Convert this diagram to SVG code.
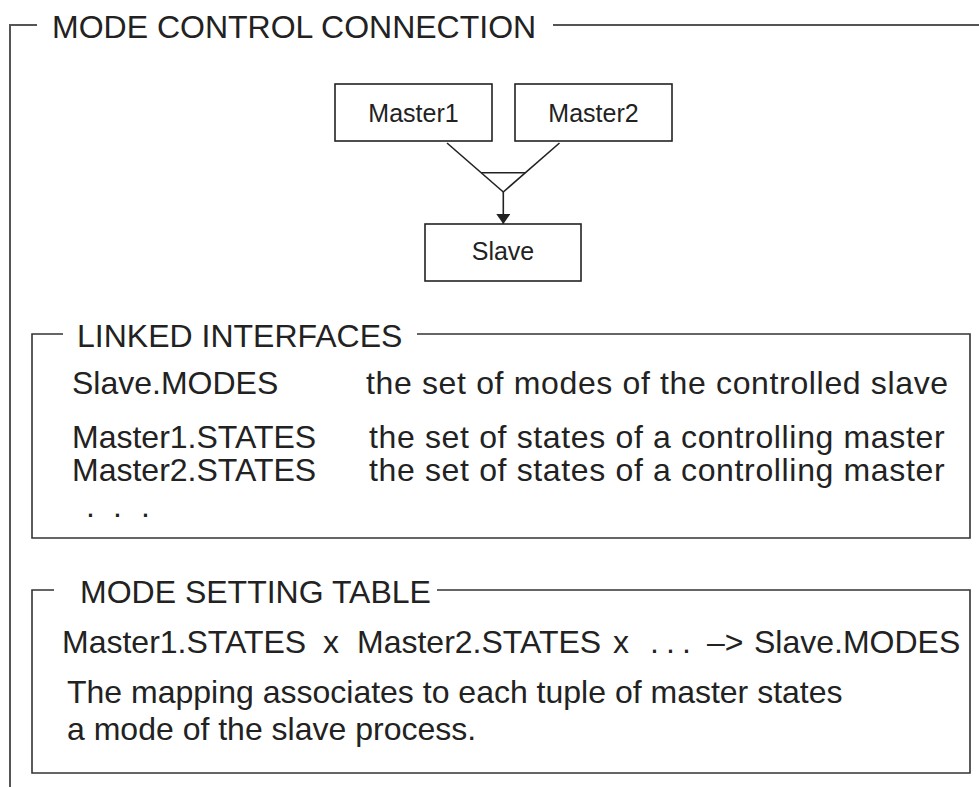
<svg xmlns="http://www.w3.org/2000/svg" width="979" height="787" viewBox="0 0 979 787">
  <defs>
    <marker id="arrow" viewBox="0 0 10 14" refX="10" refY="7" markerWidth="10" markerHeight="14" markerUnits="userSpaceOnUse" orient="auto">
      <path d="M0,0 L10,7 L0,14 Z" fill="#222"/>
    </marker>
    <style>
      text { font-family: "Liberation Sans", Arial, Helvetica, sans-serif; fill: #222; }
      .big { font-size: 32px; }
      .node { font-size: 25px; text-anchor: middle; }
      .box { fill: #fff; stroke: #222; stroke-width: 1.6; }
      .frame { fill: none; stroke: #333; stroke-width: 1.6; }
      .outer { fill: none; stroke: #555; stroke-width: 2; }
      .conn { fill: none; stroke: #222; stroke-width: 1.6; }
      .desc { letter-spacing: 0.65px; }
    </style>
  </defs>
  <rect width="979" height="787" fill="#fff"/>

  <!-- Outer frame: MODE CONTROL CONNECTION -->
  <g id="outer-frame">
    <polyline class="outer" points="37,25 10,25 10,787"/>
    <line class="outer" x1="553" y1="25" x2="979" y2="25"/>
    <text class="big" x="52" y="37.5">MODE CONTROL CONNECTION</text>
  </g>

  <!-- Nodes -->
  <g id="master1">
    <rect class="box" x="335" y="84" width="157" height="57"/>
    <text class="node" x="413.5" y="121.5">Master1</text>
  </g>
  <g id="master2">
    <rect class="box" x="515" y="84" width="157" height="57"/>
    <text class="node" x="593.5" y="121.5">Master2</text>
  </g>
  <g id="slave">
    <rect class="box" x="425" y="224" width="156" height="57"/>
    <text class="node" x="503" y="260">Slave</text>
  </g>

  <!-- Connectors -->
  <g id="connectors">
    <line class="conn" x1="447" y1="143" x2="503.3" y2="192"/>
    <line class="conn" x1="559.5" y1="143" x2="503.3" y2="192"/>
    <line class="conn" x1="481.3" y1="172.7" x2="525.3" y2="172.7"/>
    <line class="conn" x1="503.3" y1="192" x2="503.3" y2="224" marker-end="url(#arrow)"/>
  </g>

  <!-- LINKED INTERFACES -->
  <g id="linked-interfaces">
    <polyline class="frame" points="63,334 32,334 32,538 970,538 970,334 417,334"/>
    <text class="big" x="77" y="347">LINKED INTERFACES</text>
    <text class="big" x="72" y="394">Slave.MODES</text>
    <text class="big desc" x="366" y="394">the set of modes of the controlled slave</text>
    <text class="big" x="72" y="448">Master1.STATES</text>
    <text class="big desc" x="369" y="448">the set of states of a controlling master</text>
    <text class="big" x="72" y="481">Master2.STATES</text>
    <text class="big desc" x="369" y="481">the set of states of a controlling master</text>
    <text class="big" y="517"><tspan x="86">.</tspan><tspan x="113">.</tspan><tspan x="141">.</tspan></text>
  </g>

  <!-- MODE SETTING TABLE -->
  <g id="mode-setting-table">
    <polyline class="frame" points="54,590 32,590 32,773 970,773 970,590 437,590"/>
    <text class="big" x="80" y="603">MODE SETTING TABLE</text>
    <text class="big" y="653"><tspan x="62">Master1.STATES</tspan><tspan x="323">x</tspan><tspan x="357">Master2.STATES</tspan><tspan x="613">x</tspan><tspan x="650">.</tspan><tspan x="666">.</tspan><tspan x="682">.</tspan><tspan x="707">–&gt;</tspan><tspan x="754">Slave.MODES</tspan></text>
    <text class="big" x="67" y="703">The mapping associates to each tuple of master states</text>
    <text class="big" x="67" y="740">a mode of the slave process.</text>
  </g>
</svg>
